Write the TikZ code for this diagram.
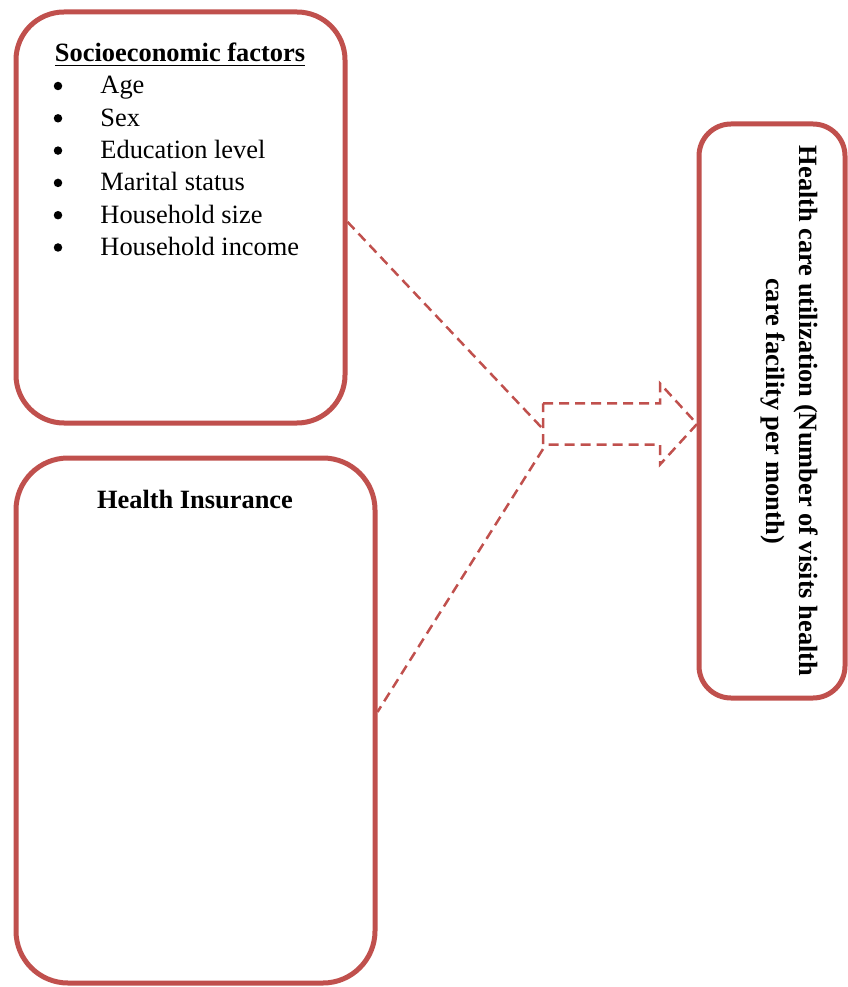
\documentclass[tikz,border=0pt]{standalone}
\usepackage{fontspec}
\setmainfont{Liberation Serif}
\usepackage{tikz}
\usetikzlibrary{positioning,shapes,arrows.meta,calc}
\usepackage{xcolor}
\definecolor{boxred}{RGB}{192, 80, 77}
\newcommand{\pxu}{0.4545pt}

\begin{document}
\begin{tikzpicture}[
    x=0.4545pt, y=-0.4545pt,
    font=\fontsize{12}{14.7}\selectfont,
    factorbox/.style={draw=boxred, line width=5*\pxu, fill=white, inner sep=0pt},
    flowline/.style={draw=boxred, line width=2.5*\pxu, dash pattern=on 10*\pxu off 6*\pxu},
    headtxt/.style={font=\fontsize{12}{14.7}\selectfont\bfseries},
    dotmark/.style={circle, fill=black, inner sep=0pt, minimum size=8.5*\pxu},
]
\useasboundingbox (0,0) rectangle (847,987);

% === BOXES ===
\node[factorbox, rounded corners=48*\pxu, minimum width=329*\pxu, minimum height=411*\pxu] (sei) at (180.5, 217.5) {};
\node[factorbox, rounded corners=52*\pxu, minimum width=359*\pxu, minimum height=525*\pxu] (hins) at (195.5, 720.5) {};
\node[factorbox, rounded corners=32*\pxu, minimum width=146*\pxu, minimum height=574*\pxu] (hcu) at (772, 411) {};

% Socioeconomic factors
\node[headtxt, anchor=base] (seititle) at (180, 62) {\underline{Socioeconomic factors}};
\foreach \txt [count=\i] in {Age, Sex, Education level, Marital status, Household size, Household income} {
    \node[dotmark] (dot\i) at (58, {86+32.3*(\i-1)}) {};
    \node[anchor=base west, inner sep=0pt] (item\i) at (100, {94+32.3*(\i-1)}) {\txt};
}

% Health insurance
\node[headtxt, anchor=base] (hinstitle) at (195, 508) {Health Insurance};

% Outcome
\node[headtxt, rotate=-90, align=center, font=\fontsize{12}{15}\selectfont\bfseries] (hcutitle) at (789, 411)
    {Health care utilization (Number of visits health\\care facility per month)};

% === BLOCK ARROW ===
\coordinate (joint) at (543, 424);
\draw[flowline] (joint) ++(0,-20.5) -- ++(117,0) -- ++(0,-20) -- ++(37,40.5)
    -- ++(-37,40.5) -- ++(0,-20) -- ++(-117,0) -- cycle;

% Links
\draw[flowline] ([yshift=-2pt]sei.east) -- ([yshift=-2.3pt]joint);
\draw[flowline] ([yshift=-11.4pt]joint) -- ([yshift=3.9pt]hins.east);

\end{tikzpicture}
\end{document}
